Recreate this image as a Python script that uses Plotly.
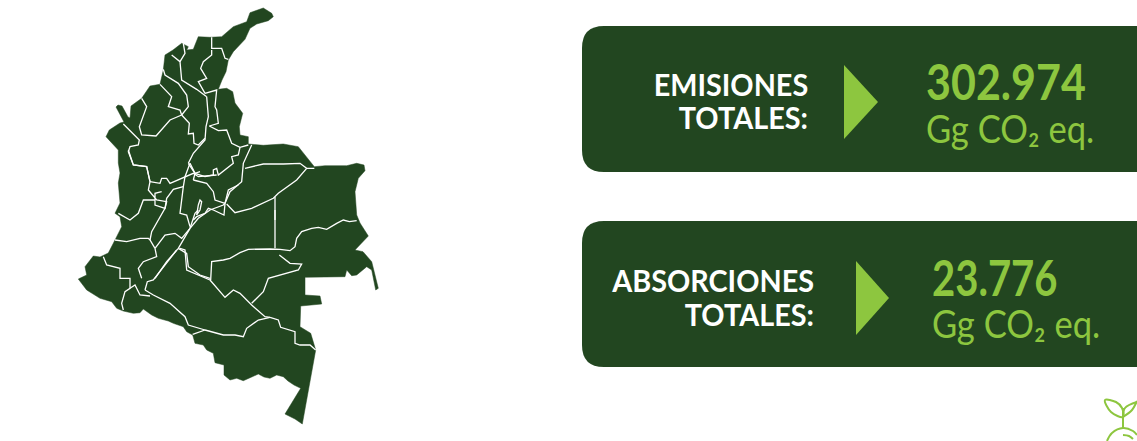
import json
import plotly.graph_objects as go

DARK = "#224620"
LIGHT = "#8DC63F"
FONT = "Lato"

# Map outline, in map units (picture-based)
OUTLINE = [
(263.3,8),(271.7,13.3),(273.3,16.7),(268.3,20.7),(256.7,24),(250,28.3),(245,39.3),(233.3,51.7),(228.3,60),(226,71.7),
(222,80),(218.3,89.3),(226.7,88.3),(232.7,91.7),(235,103),(242.7,113.3),(239.3,126.7),(240,135),(248.3,136.7),(248.3,144),
(263.3,145.3),(283.3,144),(298.3,146.7),(306,156),(314.3,166.7),(325,165.7),(346.7,165.7),(356.7,163.3),(364,165),(365,170.7),
(358.3,178.3),(355,191.7),(356,205),(356.7,215),(360,223),(368.3,236),(355,250),(363,251.7),(371.7,261.7),(375,275),(378.3,288.3),
(375.7,290),(373,278),(371.7,270),(366.7,266.7),(356.7,275),(351.7,275.7),(346.7,270),(345,276.7),(305,277.3),(305,295),(320,296),
(321.7,304),(300.7,306),(300,326.7),(310.7,333.3),(315.7,350),(302.3,424),(295,419),(285,414),(300.7,388.3),
(294,385),(288,381),(283.3,376.7),(276.7,375),(270,378.3),(264,377),(258.3,374),(251.7,377),(243.3,380.7),(236.7,378.3),(230,380),
(224,375),(224,365),(215,362.7),(213.3,353.3),(206.7,350),(203.3,345),(195,343.3),(192.7,335),(186.7,331.7),(183.3,326.7),
(173.3,323.3),(168.3,321),(158.3,318.3),(151.7,315),(143.3,309),(140,312.7),(133.3,313.3),(123.3,311),(116.7,308.3),(111.7,301.7),(100,298.3),
(86.7,290),(78.3,279),(86.7,275),(85,266.7),(93.3,256),(100,257),(108.3,253),(115,240),(121.7,226.7),(120,216.7),(115,213.3),
(120,203),(118.3,183),(120,173),(118.3,163),(118.3,150),(111.7,143),(106,136.7),(109.3,130),(120,123),(124,122),
(116,107),(118,105),(122,106),(128,117),(130,118),(131,106),(141.7,98.3),(150,86),(160,84.3),(163.3,70),(165,55),(173,50),
(181.7,43.3),(188.3,46.7),(186.7,50),(193.3,49.3),(198.3,36.7),(210,37.3),(221.7,36.7),(233.3,26.7),(246.7,21.7),(250,12.7),(261.7,8.3),(263.3,8),
]

NORTH_BORDERS = [
[(425,112),(425,145),(455,145),(465,175),(475,178)],
[(425,150),(425,165),(400,185),(392,205),(410,235),(385,245),(405,280)],
[(340,130),(345,160),(330,185)],
[(305,165),(330,185),(335,240),(380,268),(410,290)],
[(280,208),(285,225),(325,250),(350,285),(355,320),(335,345)],
[(270,253),(305,290),(295,320),(330,330),(335,345)],
[(215,295),(230,320),(208,380),(215,405),(258,408),(300,360),(335,345)],
[(335,345),(358,370),(355,402),(370,400),(372,430),(385,435),(405,415)],
[(410,290),(415,350),(408,380),(405,420),(370,460),(355,490)],
[(405,280),(440,270),(435,320),(440,330),(445,370),(418,378)],
[(418,378),(445,392),(470,390),(485,430),(510,442),(535,435)],
[(160,372),(208,420),(205,435),(180,440),(175,455),(190,495),(230,500),(240,545)],
[(355,490),(375,520),(405,530),(430,525),(430,510),(440,505),(445,525),(490,490),(485,470),(505,465),(510,442)],
[(545,435),(520,490),(515,545),(480,575),(465,610)],
[(525,505),(580,492),(640,492),(690,490),(710,505),(733,505)],
[(710,505),(680,540),(625,580),(610,595),(545,625),(495,638),(470,612)],
[(615,590),(615,660)],
[(465,610),(462,645),(430,630),(415,625),(405,640),(380,650),(370,660)],
]
CENTRE_BORDERS = [
[(55,0),(70,45),(110,50),(120,95),(115,120),(140,150),(170,155),(165,175),(135,165),(135,130),(155,125)],
[(120,95),(150,100),(155,85),(170,85),(180,100),(225,80),(250,70),(265,80),(305,75),(320,75)],
[(240,40),(225,80),(220,110),(210,190),(230,195),(240,230)],
[(240,40),(255,70),(270,65)],
[(220,110),(190,118),(170,145),(165,175),(125,245),(120,270)],
[(135,150),(100,150),(85,190),(60,210),(25,190)],
[(15,270),(50,275),(90,265),(115,265),(120,270),(135,295)],
[(135,295),(165,255),(195,250),(215,265),(240,235)],
[(135,295),(140,320),(100,335),(85,355),(95,385)],
[(240,235),(205,295),(170,335),(135,385)],
[(205,295),(230,310),(235,350),(270,375),(300,385)],
[(240,235),(265,205),(300,180),(340,165),(345,160),(355,120),(385,105)],
[(250,90),(290,100),(310,125),(315,150),(345,160)],
[(255,70),(250,90)],
[(260,195),(265,165),(270,150),(275,155),(270,180),(260,195)],
[(240,235),(255,190),(265,180)],
]
SOUTH_BORDERS = [
[(860,32),(838,35),(820,30),(800,40),(770,58),(745,52),(725,55),(695,65),(680,85),(675,110),(660,122),(630,118),(600,117),(570,118),(535,118),(510,128),(480,145),(460,150),(425,155),(422,210)],
[(615,0),(615,115)],
[(330,115),(345,120),(350,180),(420,210)],
[(628,135),(660,160),(695,162),(685,180),(595,205),(580,245),(545,280)],
[(420,210),(465,262),(490,240),(510,250),(545,285),(585,320),(600,322)],
[(600,322),(625,330),(632,352),(675,365),(675,400),(690,405),(720,405),(737,420)],
[(600,322),(565,330),(530,355),(520,380),(495,375),(460,375),(405,360)],
[(225,240),(250,255),(300,280),(345,320),(355,345),(405,360)],
[(405,360),(368,373)],
[(320,120),(250,210),(232,215),(225,240)],
[(100,140),(110,165),(150,175),(150,205),(180,205),(180,235),(165,245),(155,280),(160,300)],
[(180,235),(195,225),(210,255),(240,258)],
]

# Panels
PANEL_LABELS = [["EMISIONES", "TOTALES:"], ["ABSORCIONES", "TOTALES:"]]
PANEL_VALUES = ["302.974", "23.776"]
PANEL_UNIT = "Gg CO₂ eq."
PANEL_TOP = [26, 221]
PANEL_BOTTOM = [172, 367]
LABEL_RIGHT = [810, 816]
LABEL_Y = [[84, 117], [280, 314]]
VALUE_LEFT = [924, 930]
VALUE_Y = [81, 277]
UNIT_Y = [128, 323]
ARROW_LEFT = [844, 856]
ARROW_RIGHT = [878, 889]
ARROW_TOP = [65, 261]
ARROW_BOTTOM = [139, 335]
LABEL_NARROW = 0.93
VALUE_NARROW = [0.86, 0.80]
UNIT_NARROW = 0.91

# Sprout icon
LEAF_L = [(1123,417),(1111,412),(1105,400),(1116,402),(1122,408),(1123,417)]
LEAF_R = [(1123,417),(1132,410),(1137,401)]
LEAF_R2 = [(1123,417),(1125,408),(1137,402)]
STEM = [(1123,408),(1123,429)]
BULB = [(1107,441),(1112,433),(1123,428),(1133,431),(1137,435)]
BULB_IN = [(1123,435),(1129,436),(1133,439)]

fig = go.Figure()


def xs(p):
    return [a for a, _ in p]


def ys(p):
    return [b for _, b in p]


fig.add_trace(go.Scatter(x=xs(OUTLINE), y=ys(OUTLINE), mode="lines", fill="toself",
                         fillcolor=DARK, line=dict(color=DARK, width=0.5), hoverinfo="skip"))

for group, ox, oy in [(NORTH_BORDERS, 70, 0), (CENTRE_BORDERS, 110, 150), (SOUTH_BORDERS, 70, 210)]:
    for line in group:
        fig.add_trace(go.Scatter(x=[ox + a / 3 for a, _ in line], y=[oy + b / 3 for _, b in line],
                                 mode="lines", line=dict(color="white", width=1.3), hoverinfo="skip"))

shapes = []
for i in range(2):
    t, b = PANEL_TOP[i], PANEL_BOTTOM[i]
    r = 22
    shapes.append(dict(type="path", xref="x", yref="y", layer="below", line=dict(width=0), fillcolor=DARK,
                       path=f"M 1137 {t} L {582+r} {t} Q 582 {t} 582 {t+r} L 582 {b-r} Q 582 {b} {582+r} {b} L 1137 {b} Z"))
    l, rr = ARROW_LEFT[i], ARROW_RIGHT[i]
    at, ab = ARROW_TOP[i], ARROW_BOTTOM[i]
    shapes.append(dict(type="path", xref="x", yref="y", line=dict(width=0), fillcolor=LIGHT,
                       path=f"M {l} {at} L {rr} {(at+ab)/2} L {l} {ab} Z"))

anns = []
narrow = []
for i in range(2):
    for txt, y in zip(PANEL_LABELS[i], LABEL_Y[i]):
        anns.append(dict(x=LABEL_RIGHT[i], y=y, text=txt, xanchor="right", yanchor="middle", showarrow=False,
                         font=dict(family=FONT, size=31, color="white", weight=700), xref="x", yref="y"))
        narrow.append([LABEL_NARROW, 1])
    anns.append(dict(x=VALUE_LEFT[i], y=VALUE_Y[i], text=PANEL_VALUES[i], xanchor="left", yanchor="middle",
                     showarrow=False, font=dict(family=FONT, size=50, color=LIGHT, weight=700), xref="x", yref="y"))
    narrow.append([VALUE_NARROW[i], 0])
    anns.append(dict(x=VALUE_LEFT[i], y=UNIT_Y[i], text=PANEL_UNIT, xanchor="left", yanchor="middle",
                     showarrow=False, font=dict(family=FONT, size=38, color=LIGHT), xref="x", yref="y"))
    narrow.append([UNIT_NARROW, 0])

for part in [LEAF_L, LEAF_R, LEAF_R2, STEM, BULB, BULB_IN]:
    fig.add_trace(go.Scatter(x=xs(part), y=ys(part), mode="lines", hoverinfo="skip",
                             line=dict(color=LIGHT, width=2, shape="spline")))

fig.update_layout(
    width=1137, height=441, margin=dict(l=0, r=0, t=0, b=0), showlegend=False,
    paper_bgcolor="white", plot_bgcolor="white", shapes=shapes, annotations=anns,
    xaxis=dict(range=[0, 1137], visible=False, fixedrange=True),
    yaxis=dict(range=[441, 0], visible=False, fixedrange=True),
)
post = """
document.body.style.margin='0';document.body.style.overflow='hidden';
var N = %s;
function squeeze(){
  var a = document.querySelectorAll('.annotation');
  if(a.length < N.length){ setTimeout(squeeze, 30); return; }
  a.forEach(function(g){
    var i = +g.getAttribute('data-index');
    var t = g.querySelector('text');
    if(!t || !N[i]) return;
    var b = t.getBBox();
    var ax = N[i][1] ? b.x + b.width : b.x;
    t.setAttribute('transform','translate('+ax+',0) scale('+N[i][0]+',1) translate('+(-ax)+',0)');
  });
}
squeeze();
""" % json.dumps(narrow)
fig.write_html("out.html", config={"displayModeBar": False}, post_script=post)
